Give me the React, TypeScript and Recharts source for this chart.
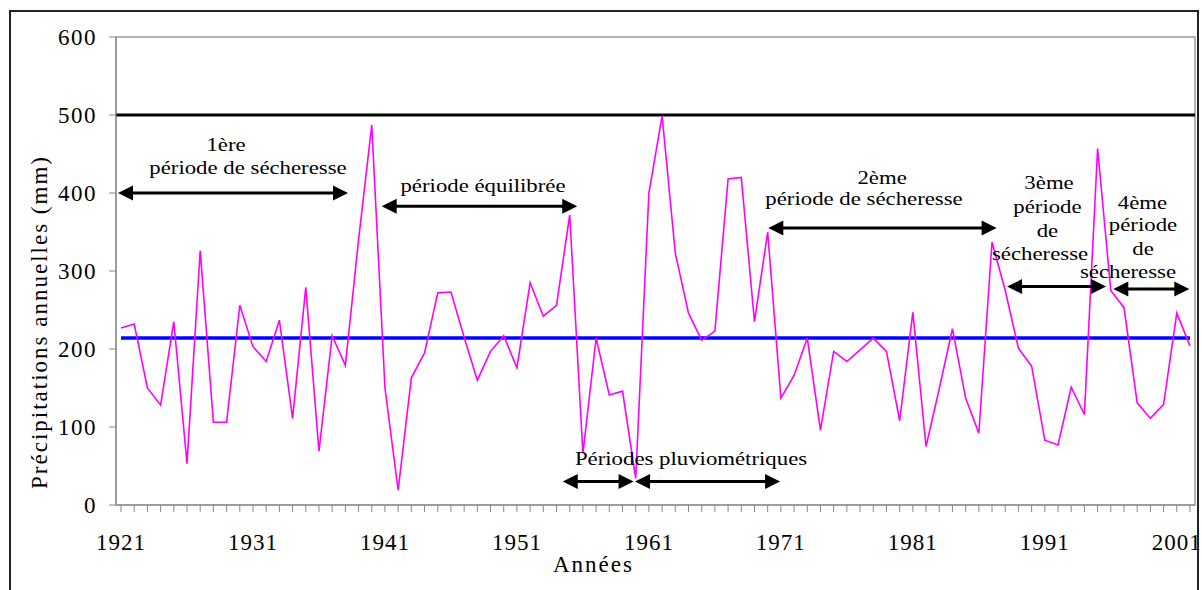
import {
	Line,
	LineChart,
	ReferenceArea,
	ReferenceDot,
	ReferenceLine,
	XAxis,
	YAxis,
} from 'recharts';

// années hydrologiques (axe X)
const annees = [
	1921, 1922, 1923, 1924, 1925, 1926, 1927, 1928, 1929, 1930,
	1931, 1932, 1933, 1934, 1935, 1936, 1937, 1938, 1939, 1940,
	1941, 1942, 1943, 1944, 1945, 1946, 1947, 1948, 1949, 1950,
	1951, 1952, 1953, 1954, 1955, 1956, 1957, 1958, 1959, 1960,
	1961, 1962, 1963, 1964, 1965, 1966, 1967, 1968, 1969, 1970,
	1971, 1972, 1973, 1974, 1975, 1976, 1977, 1978, 1979, 1980,
	1981, 1982, 1983, 1984, 1985, 1986, 1987, 1988, 1989, 1990,
	1991, 1992, 1993, 1994, 1995, 1996, 1997, 1998, 1999, 2000,
	2001, 2002,
];

// précipitations annuelles (mm)
const precipitations = [
	227, 232, 150, 128, 235, 53, 326, 106, 106, 256,
	203, 184, 237, 111, 279, 69, 217, 179, 340, 487,
	150, 19, 163, 195, 272, 273, 215, 160, 197, 217,
	176, 285, 242, 256, 372, 66, 214, 141, 146, 34,
	400, 499, 323, 246, 211, 223, 418, 420, 235, 350,
	137, 166, 214, 96, 197, 184, 199, 214, 197, 108,
	247, 75, 149, 226, 137, 92, 337, 275, 201, 178,
	83, 77, 151, 116, 457, 275, 253, 131, 111, 129,
	246, 204,
];

const moyenne = 214;
const seuil = 500;
const ticksY = [0, 100, 200, 300, 400, 500, 600];
const anneesEtiquetees = [1921, 1931, 1941, 1951, 1961, 1971, 1981, 1991, 2001];

const data = annees.map((annee, i) => ({ annee, pluie: precipitations[i] }));

// flèches des périodes (en coordonnées du graphique)
const fleches = [
	{ de: 1920.77, a: 1938.2, niveau: 400 },
	{ de: 1940.75, a: 1955.57, niveau: 383 },
	{ de: 1970.05, a: 1987.35, niveau: 355 },
	{ de: 1988.14, a: 1995.64, niveau: 280 },
	{ de: 1996.19, a: 2001.95, niveau: 277 },
	{ de: 1954.47, a: 1959.84, niveau: 30 },
	{ de: 1959.95, a: 1970.94, niveau: 30 },
];

const textes = [
	{ texte: '1ère', annee: 1928.96, niveau: 454 },
	{ texte: 'période de sécheresse', annee: 1930.62, niveau: 425 },
	{ texte: 'période équilibrée', annee: 1948.43, niveau: 401 },
	{ texte: '2ème', annee: 1978.67, niveau: 412 },
	{ texte: 'période de sécheresse', annee: 1977.3, niveau: 384 },
	{ texte: '3ème', annee: 1991.32, niveau: 405 },
	{ texte: 'période', annee: 1991.2, niveau: 375 },
	{ texte: 'de', annee: 1991.2, niveau: 344 },
	{ texte: 'sécheresse', annee: 1990.64, niveau: 314 },
	{ texte: '4ème', annee: 1998.4, niveau: 380 },
	{ texte: 'période', annee: 1998.44, niveau: 351 },
	{ texte: 'de', annee: 1998.44, niveau: 320 },
	{ texte: 'sécheresse', annee: 1997.3, niveau: 291 },
	{ texte: 'Périodes pluviométriques', annee: 1964.19, niveau: 51 },
];

const police = '"Liberation Serif", "Times New Roman", serif';

const DoubleFleche = (props: any) => {
	const { x1, y1, x2, y2 } = props;
	const h = 15;
	const w = 7.5;
	return (
		<g>
			<line
				x1={x1 + h - 1}
				y1={y1}
				x2={x2 - h + 1}
				y2={y2}
				stroke="#000"
				strokeWidth={3}
			/>
			<polygon
				points={`${x1},${y1} ${x1 + h},${y1 - w} ${x1 + h},${y1 + w}`}
				fill="#000"
			/>
			<polygon
				points={`${x2},${y2} ${x2 - h},${y2 - w} ${x2 - h},${y2 + w}`}
				fill="#000"
			/>
		</g>
	);
};

export default function App() {
	return (
		<div style={{ position: 'absolute', left: 0, top: 0, width: 1202, height: 590, background: '#fff', overflow: 'hidden' }}>
			<div
				style={{
					position: 'absolute',
					left: 9,
					top: 10,
					width: 1190,
					height: 640,
					border: '2px solid #222',
					boxSizing: 'border-box',
				}}
			/>
			<div style={{ position: 'absolute', left: 0, top: 0 }}>
				<LineChart
					width={1202}
					height={590}
					data={data}
					margin={{ top: 37, right: 7, bottom: 25, left: 16 }}
					style={{ fontFamily: police }}
				>
					<XAxis
						dataKey="annee"
						type="number"
						domain={[1920.62, 2002.38]}
						ticks={annees}
						interval={0}
						height={60}
						tickSize={7}
						tickMargin={22}
						stroke="#888"
						tick={{ fill: '#000', fontSize: 23, fontFamily: police, letterSpacing: 1 }}
						tickFormatter={(v: number) =>
							anneesEtiquetees.includes(v) ? String(v) : ''
						}
						label={{
							content: ({ viewBox }: any) => (
								<text
									x={viewBox.x + viewBox.width / 2 - 62}
									y={viewBox.y + 67}
									textAnchor="middle"
									fontSize={23}
									letterSpacing={2}
									fontFamily={police}
									fill="#000"
								>
									Années
								</text>
							),
						}}
					/>
					<YAxis
						type="number"
						domain={[0, 600]}
						ticks={ticksY}
						width={100}
						tickSize={7}
						tickMargin={12}
						stroke="#888"
						tick={{ fill: '#000', fontSize: 23, fontFamily: police, letterSpacing: 1.5 }}
						label={{
							content: ({ viewBox }: any) => {
								const cx = viewBox.x + 23;
								const cy = viewBox.y + viewBox.height / 2 + 51;
								return (
									<text
										x={cx}
										y={cy}
										transform={`rotate(-90 ${cx} ${cy})`}
										textAnchor="middle"
										dominantBaseline="central"
										fontSize={23}
										letterSpacing={2}
										fontFamily={police}
										fill="#000"
									>
										Précipitations annuelles (mm)
									</text>
								);
							},
						}}
					/>
					<ReferenceArea
						x1={1920.62}
						x2={2002.38}
						y1={0}
						y2={600}
						fill="none"
						stroke="#999"
						strokeWidth={1.5}
					/>
					<ReferenceLine y={seuil} stroke="#000" strokeWidth={3} />
					<ReferenceLine
						segment={[
							{ x: annees[0], y: moyenne },
							{ x: annees[annees.length - 1], y: moyenne },
						]}
						stroke="#0000ff"
						strokeWidth={3.5}
						ifOverflow="visible"
					/>
					<Line
						type="linear"
						dataKey="pluie"
						stroke="#ff00ff"
						strokeWidth={1.6}
						dot={false}
						isAnimationActive={false}
					/>
					{fleches.map((f, i) => (
						<ReferenceLine
							key={`f${i}`}
							segment={[
								{ x: f.de, y: f.niveau },
								{ x: f.a, y: f.niveau },
							]}
							ifOverflow="visible"
							shape={DoubleFleche}
						/>
					))}
					{textes.map((t, i) => (
						<ReferenceDot
							key={`t${i}`}
							x={t.annee}
							y={t.niveau}
							r={0}
							ifOverflow="visible"
							shape={(p: any) => (
								<text
									transform={`translate(${p.cx} ${p.cy}) scale(1.2 1)`}
									x={0}
									y={0}
									textAnchor="middle"
									fontSize={19}
									fontFamily={police}
									fill="#000"
								>
									{t.texte}
								</text>
							)}
						/>
					))}
				</LineChart>
			</div>
		</div>
	);
}
